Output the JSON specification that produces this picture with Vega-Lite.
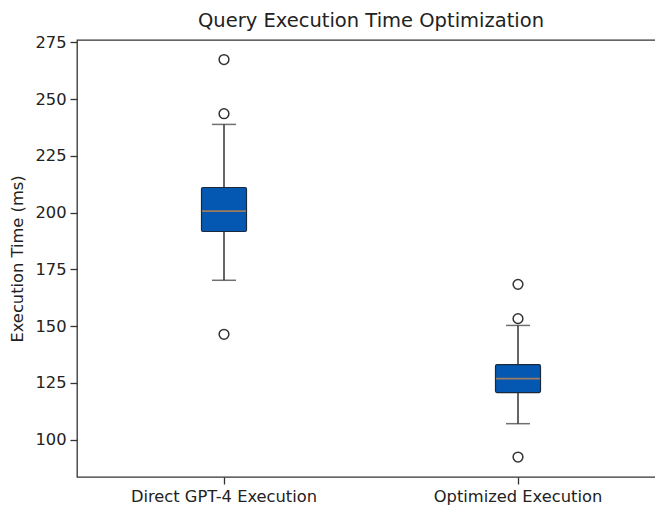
{
  "$schema": "https://vega.github.io/schema/vega-lite/v6.json",
  "autosize": {"type": "none"},
  "padding": {"left": 77, "top": 40, "right": 0, "bottom": 31},
  "width": 588,
  "height": 437,
  "background": "white",
  "title": {
    "text": "Query Execution Time Optimization",
    "fontSize": 19.5,
    "font": "DejaVu Sans",
    "fontWeight": "normal",
    "color": "#222",
    "offset": 3
  },
  "config": {
    "view": {"stroke": "#333", "strokeWidth": 1.3},
    "axis": {
      "labelFont": "DejaVu Sans",
      "titleFont": "DejaVu Sans",
      "labelColor": "#222",
      "titleColor": "#222",
      "tickColor": "#333",
      "domain": false,
      "grid": false,
      "labelFontSize": 16.3,
      "titleFontSize": 16.3,
      "titleFontWeight": "normal",
      "tickSize": 7,
      "tickWidth": 1.3,
      "labelLimit": 0
    }
  },
  "datasets": {
    "stats": [
      {"group": "Direct GPT-4 Execution", "lower": 170.2, "q1": 191.7, "median": 200.7, "q3": 211.1, "upper": 238.9},
      {"group": "Optimized Execution", "lower": 107.0, "q1": 120.7, "median": 126.9, "q3": 133.0, "upper": 150.3}
    ],
    "outliers": [
      {"group": "Direct GPT-4 Execution", "value": 267.5},
      {"group": "Direct GPT-4 Execution", "value": 243.6},
      {"group": "Direct GPT-4 Execution", "value": 146.4},
      {"group": "Optimized Execution", "value": 168.4},
      {"group": "Optimized Execution", "value": 153.3},
      {"group": "Optimized Execution", "value": 92.3}
    ]
  },
  "encoding": {
    "x": {
      "field": "group",
      "type": "nominal",
      "sort": ["Direct GPT-4 Execution", "Optimized Execution"],
      "scale": {"paddingInner": 0, "paddingOuter": 0},
      "axis": {"title": null, "labelAngle": 0, "labelPadding": 4, "labelLimit": 0}
    }
  },
  "layer": [
    {
      "data": {"name": "stats"},
      "mark": {"type": "rule", "stroke": "#333", "strokeWidth": 1.5},
      "encoding": {
        "y": {"field": "lower", "type": "quantitative", "scale": {"domain": [83.5, 276.1], "nice": false, "zero": false},
          "axis": {"values": [100, 125, 150, 175, 200, 225, 250, 275], "title": "Execution Time (ms)", "labelPadding": 4, "titlePadding": 9}},
        "y2": {"field": "upper"}
      }
    },
    {
      "data": {"name": "stats"},
      "mark": {"type": "tick", "color": "#333", "thickness": 1.5, "size": 24},
      "encoding": {"y": {"field": "lower", "type": "quantitative"}}
    },
    {
      "data": {"name": "stats"},
      "mark": {"type": "tick", "color": "#333", "thickness": 1.5, "size": 24},
      "encoding": {"y": {"field": "upper", "type": "quantitative"}}
    },
    {
      "data": {"name": "stats"},
      "mark": {"type": "bar", "size": 45, "fill": "#0458b2", "stroke": "#1a2a3a", "strokeWidth": 1.2, "cornerRadius": 1.5},
      "encoding": {
        "y": {"field": "q1", "type": "quantitative"},
        "y2": {"field": "q3"}
      }
    },
    {
      "data": {"name": "stats"},
      "mark": {"type": "tick", "color": "#e08a3a", "thickness": 1.7, "size": 44},
      "encoding": {"y": {"field": "median", "type": "quantitative"}}
    },
    {
      "data": {"name": "outliers"},
      "mark": {"type": "point", "shape": "circle", "filled": false, "stroke": "#333", "strokeWidth": 1.5, "size": 95, "opacity": 1},
      "encoding": {"y": {"field": "value", "type": "quantitative"}}
    }
  ]
}
